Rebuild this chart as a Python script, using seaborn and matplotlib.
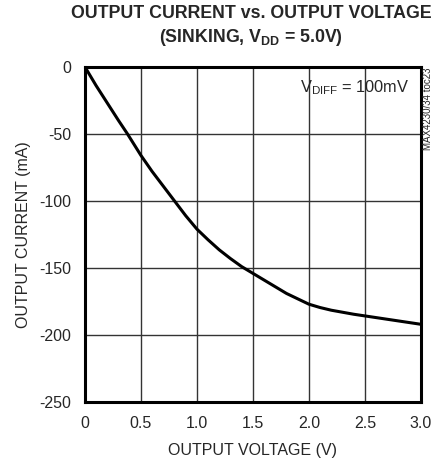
import matplotlib
matplotlib.use("Agg")
import matplotlib.pyplot as plt
import seaborn as sns
import pandas as pd

# Data
voltage = [0.0, 0.1, 0.2, 0.3, 0.38, 0.5, 0.6, 0.7, 0.8, 0.9, 1.0, 1.1, 1.2, 1.3, 1.4, 1.5,
           1.6, 1.7, 1.8, 1.9, 2.0, 2.1, 2.2, 2.4, 2.6, 2.8, 3.0]
current = [0.0, -14, -27, -40, -50, -66, -78, -89, -100, -111, -121, -129, -136.5, -143, -149, -154,
           -159, -164, -169, -173, -177, -179.5, -181.5, -184.5, -187, -189.5, -192]
x_ticks = [0, 0.5, 1.0, 1.5, 2.0, 2.5, 3.0]
x_labels = ["0", "0.5", "1.0", "1.5", "2.0", "2.5", "3.0"]
y_ticks = [0, -50, -100, -150, -200, -250]

sns.set_style("white")
plt.rcParams["font.family"] = ["Liberation Sans", "DejaVu Sans"]
plt.rcParams["mathtext.fontset"] = "custom"
plt.rcParams["mathtext.rm"] = "Liberation Sans"
plt.rcParams["mathtext.bf"] = "Liberation Sans:bold"
plt.rcParams["axes.unicode_minus"] = False

df = pd.DataFrame({"V": voltage, "I": current})

fig = plt.figure(figsize=(4.33, 4.67), dpi=100)
ax = fig.add_axes([0.196, 0.139, 0.776, 0.718])

sns.lineplot(data=df, x="V", y="I", color="black", linewidth=2.2, ax=ax)

ax.set_xlim(0, 3.0)
ax.set_ylim(-250, 0)
ax.set_xticks(x_ticks)
ax.set_xticklabels(x_labels)
ax.set_yticks(y_ticks)
ax.grid(True, color="#333333", linewidth=1.0)
ax.tick_params(length=0, labelsize=11.5, pad=10)
for s in ax.spines.values():
    s.set_linewidth(2.2)
    s.set_color("black")

ax.set_xlabel("OUTPUT VOLTAGE (V)", fontsize=11.5, labelpad=9)
ax.set_ylabel("OUTPUT CURRENT (mA)", fontsize=11.5, labelpad=6)

fig.text(0.58, 0.99, "OUTPUT CURRENT vs. OUTPUT VOLTAGE", ha="center", va="top",
         fontsize=12.8, fontweight="bold")
fig.text(0.58, 0.942, r"(SINKING, V$_{\mathbf{DD}}$ = 5.0V)", ha="center", va="top",
         fontsize=12.8, fontweight="bold")

ax.text(0.967, 0.965, r"V$_{\mathrm{DIFF}}$ = 100mV", transform=ax.transAxes,
        ha="right", va="top", fontsize=11.8)
fig.text(0.988, 0.855, "MAX4230/34 toc23", rotation=90, ha="center", va="top", fontsize=7)

plt.savefig("out.png", dpi=100)
